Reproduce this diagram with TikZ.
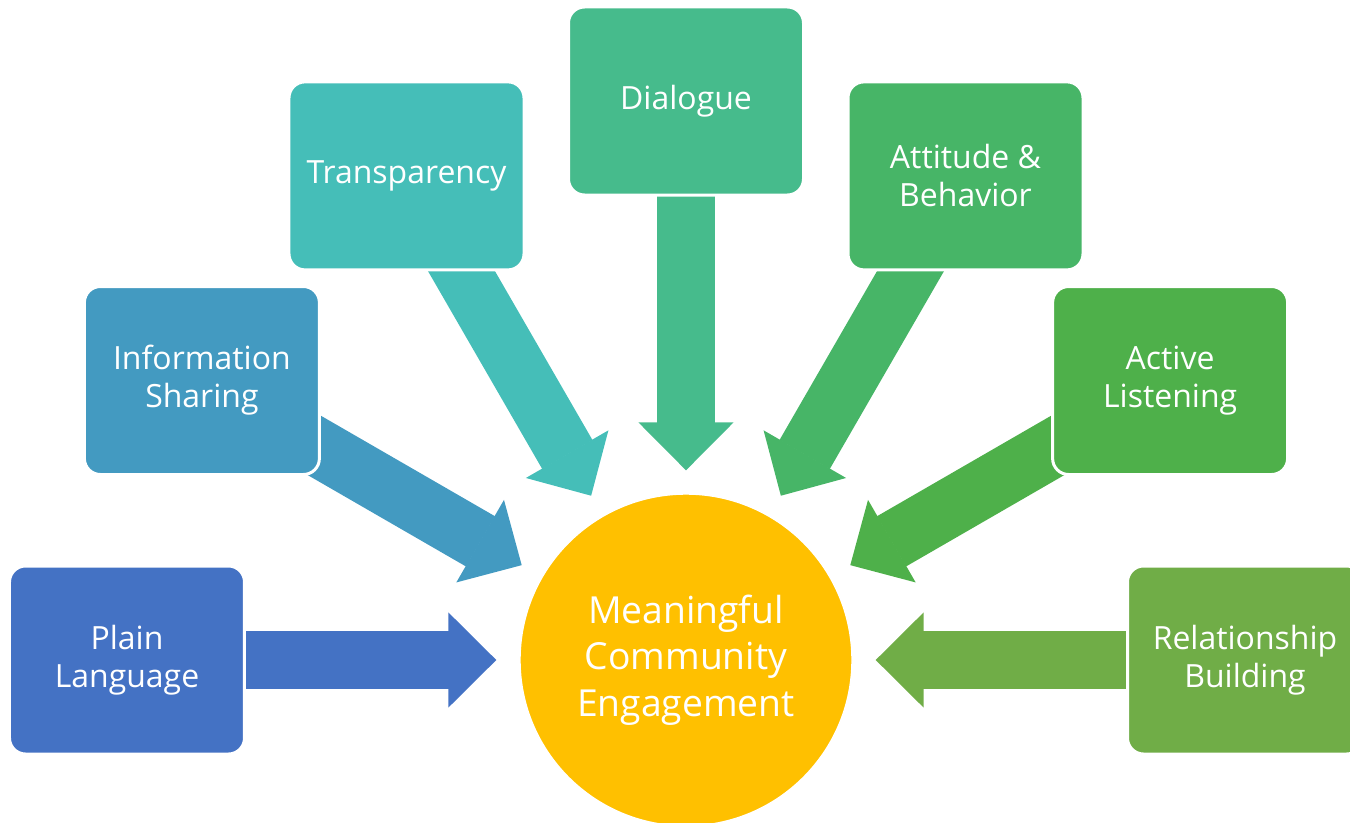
\documentclass[tikz,border=0pt]{standalone}
\usepackage{fontspec}
\setmainfont{Open Sans}
\usetikzlibrary{arrows.meta,backgrounds}
\definecolor{c1}{HTML}{4472C4}
\definecolor{c2}{HTML}{439AC1}
\definecolor{c3}{HTML}{45BEB8}
\definecolor{c4}{HTML}{46BB8C}
\definecolor{c5}{HTML}{47B567}
\definecolor{c6}{HTML}{4EB04A}
\definecolor{c7}{HTML}{70AD47}
\definecolor{hubcol}{HTML}{FFC000}
\begin{document}
\begin{tikzpicture}[
    box/.style={rectangle, rounded corners=0.32cm, draw=white, line width=0.06cm,
      minimum width=4.7cm, minimum height=3.76cm, text=white, align=center,
      font=\fontsize{18.2}{21.6}\selectfont},
    hub/.style={circle, fill=hubcol, draw=white, line width=0.8pt,
      minimum size=6.64cm, text=white, align=center,
      font=\fontsize{21.2}{26.5}\selectfont},
    pointer/.style={line width=1.16cm, shorten >=0.46cm,
      -{Triangle[length=0.96cm, width=1.9cm, line width=1pt]}}]
  \useasboundingbox (-13.72,-3.24) rectangle (13.28,13.2);
  \node[hub] (hub) at (0,0) {Meaningful\\Community\\Engagement};
  \node[box, fill=c1] (plain) at (180:11.18) {Plain\\Language};
  \node[box, fill=c2] (info) at (150:11.18) {Information\\Sharing};
  \node[box, fill=c3] (transp) at (120:11.18) {Transparency};
  \node[box, fill=c4] (dial) at (90:11.18) {Dialogue};
  \node[box, fill=c5] (att) at (60:11.18) {Attitude \&\\Behavior};
  \node[box, fill=c6] (listen) at (30:11.18) {Active\\Listening};
  \node[box, fill=c7] (rel) at (0:11.18) {Relationship\\Building};
  % arrows go under the boxes
  \begin{pgfonlayer}{background}
    \draw (plain.center) edge[pointer, c1] (hub);
    \draw (info.center) edge[pointer, c2] (hub);
    \draw (transp.center) edge[pointer, c3] (hub);
    \draw (dial.center) edge[pointer, c4] (hub);
    \draw (att.center) edge[pointer, c5] (hub);
    \draw (listen.center) edge[pointer, c6] (hub);
    \draw (rel.center) edge[pointer, c7] (hub);
  \end{pgfonlayer}
\end{tikzpicture}
\end{document}
